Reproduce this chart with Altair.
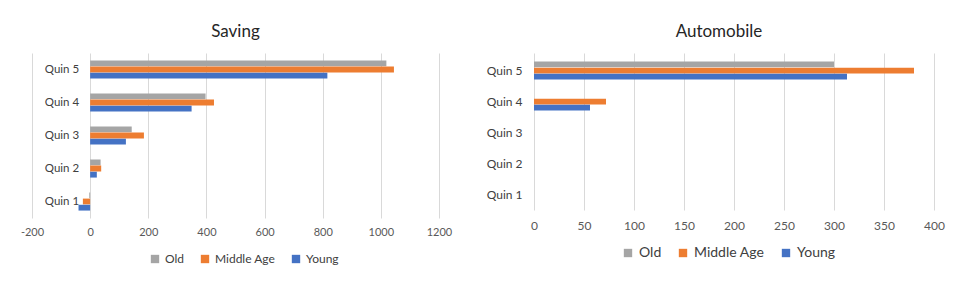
import altair as alt
import pandas as pd

quintiles = ["Quin 5", "Quin 4", "Quin 3", "Quin 2", "Quin 1"]
groups = ["Old", "Middle Age", "Young"]
colors = ["#A5A5A5", "#ED7D31", "#4472C4"]

saving_old = [1019, 397, 143, 36, -3]
saving_mid = [1045, 426, 185, 38, -25]
saving_young = [816, 349, 123, 23, -40]

auto_old = [300, 0, 0, 0, 0]
auto_mid = [380, 72, 0, 0, 0]
auto_young = [313, 56, 0, 0, 0]

saving_ticks = [-200, 0, 200, 400, 600, 800, 1000, 1200]
auto_ticks = [0, 50, 100, 150, 200, 250, 300, 350, 400]

FONT = "Lato"


def long_df(old, mid, young):
    rows = []
    for g, vals in zip(groups, [old, mid, young]):
        for q, v in zip(quintiles, vals):
            rows.append({"quin": q, "group": g, "value": v})
    return pd.DataFrame(rows)


def panel(df, title, domain, ticks, w, h, y_scale, y_axis, x_label_pad,
          x_font, legend_x, legend_y, legend_font, title_dx, title_offset):
    return alt.Chart(df).mark_bar().encode(
        y=alt.Y("quin:N", sort=quintiles, scale=y_scale, axis=y_axis),
        yOffset=alt.YOffset("group:N", sort=groups,
                            scale=alt.Scale(domain=groups, paddingInner=0.06)),
        x=alt.X("value:Q",
                scale=alt.Scale(domain=domain, nice=False, zero=True),
                axis=alt.Axis(values=ticks, title=None, domain=False, ticks=False,
                              gridColor="#D9D9D9", gridWidth=1,
                              labelColor="#595959", labelFontSize=x_font,
                              labelPadding=x_label_pad, labelFlush=False,
                              labelExpr="'' + datum.value",
                              labelFont=FONT)),
        color=alt.Color("group:N", sort=groups,
                        scale=alt.Scale(domain=groups, range=colors),
                        legend=alt.Legend(title=None, orient="none",
                                          direction="horizontal",
                                          legendX=legend_x, legendY=legend_y,
                                          symbolType="square", symbolSize=70,
                                          symbolStrokeWidth=0,
                                          labelFontSize=legend_font,
                                          labelColor="#404040", labelFont=FONT,
                                          columnPadding=14, labelOffset=4)),
    ).properties(
        width=w, height=h,
        title=alt.TitleParams(title, fontSize=17, fontWeight="normal",
                              color="#262626", font=FONT, offset=title_offset,
                              dx=title_dx),
    )


left = panel(
    long_df(saving_old, saving_mid, saving_young), "Saving",
    [-200, 1200], saving_ticks, 407, 165,
    alt.Scale(paddingInner=0.45, paddingOuter=0.225),
    alt.Axis(title=None, domain=False, ticks=False, grid=False,
             labelFontSize=11.5, labelColor="#404040", labelFont=FONT,
             labelPadding=11, offset=-57.6),
    8, 11, 117, 200, 12, 0, 12,
)

right = panel(
    long_df(auto_old, auto_mid, auto_young), "Automobile",
    [0, 400], auto_ticks, 400, 157,
    alt.Scale(paddingInner=0.39, paddingOuter=0.2275, align=0.6),
    alt.Axis(title=None, domain=False, ticks=False, grid=False,
             labelFontSize=12, labelColor="#404040", labelFont=FONT,
             labelPadding=12),
    10, 12, 87, 193, 14, -15, 12,
)

chart = alt.hconcat(left, right, spacing=34).resolve_legend(
    color="independent"
).properties(
    padding={"left": 20, "top": 23, "right": 5, "bottom": 5},
    background="white",
).configure_view(stroke=None)

chart.save("out.html", embed_options={"renderer": "svg", "actions": False})
